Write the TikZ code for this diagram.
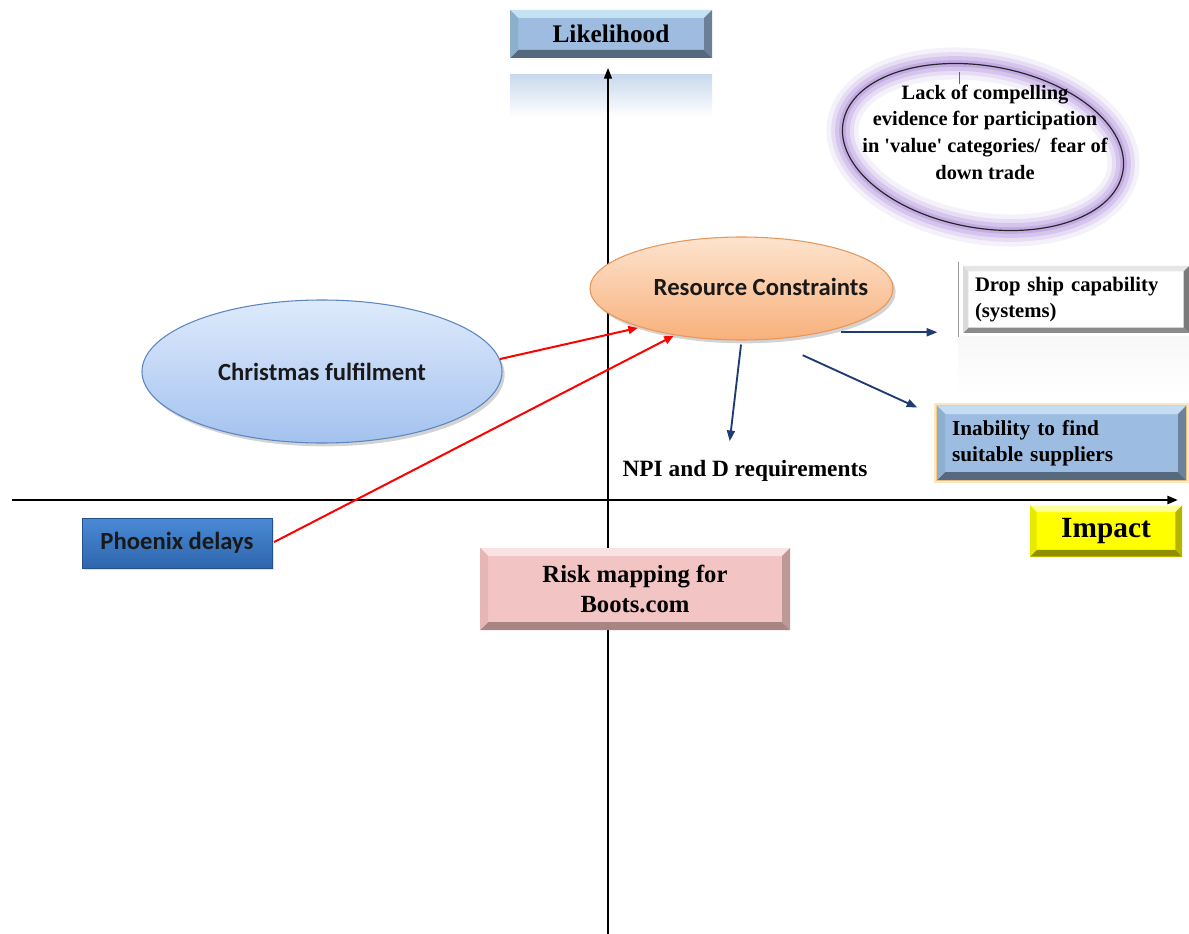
\documentclass[tikz,border=0pt]{standalone}
\usepackage{fontspec}
\setmainfont{Liberation Serif}
\newfontfamily\calibri{Carlito}
\usetikzlibrary{shapes.geometric,arrows.meta,shadows}

% bevel palettes: <name>base / top / left / bot / right
\definecolor{lkbase}{HTML}{9EBBE0}\definecolor{lktop}{HTML}{C4E2F2}\definecolor{lkleft}{HTML}{8AB0CC}\definecolor{lkbot}{HTML}{55687D}\definecolor{lkright}{HTML}{6B7F96}
\definecolor{inbase}{HTML}{9DBCE1}\definecolor{intop}{HTML}{C4DDF2}\definecolor{inleft}{HTML}{8DB0D0}\definecolor{inbot}{HTML}{56697E}\definecolor{inright}{HTML}{6D829A}
\definecolor{ipbase}{HTML}{FFFF00}\definecolor{iptop}{HTML}{FFFF99}\definecolor{ipleft}{HTML}{E8E800}\definecolor{ipbot}{HTML}{8F8F00}\definecolor{ipright}{HTML}{B5B500}
\definecolor{rkbase}{HTML}{F2C4C4}\definecolor{rktop}{HTML}{FAE2E2}\definecolor{rkleft}{HTML}{E6B6B6}\definecolor{rkbot}{HTML}{A88484}\definecolor{rkright}{HTML}{BE9898}
\definecolor{dsbase}{HTML}{FFFFFF}\definecolor{dstop}{HTML}{E6E6E6}\definecolor{dsleft}{HTML}{DADADA}\definecolor{dsbot}{HTML}{8A8A8A}\definecolor{dsright}{HTML}{7A7A7A}

\definecolor{resTop}{HTML}{FDE4CE}\definecolor{resBot}{HTML}{F8B07B}\definecolor{resLine}{HTML}{E8975A}
\definecolor{chrTop}{HTML}{DEEAFC}\definecolor{chrBot}{HTML}{A4C2EF}\definecolor{chrLine}{HTML}{5B86C0}
\definecolor{phoTop}{HTML}{4A8AD6}\definecolor{phoBot}{HTML}{2E66AD}
\definecolor{navyline}{HTML}{1F3B73}
\definecolor{glowpurple}{HTML}{9A72D0}
\definecolor{glowamber}{HTML}{F7B955}

\tikzset{
  bevel width/.store in=\bevw,
  bevel width=6pt,
  bevel/.style={fill=#1base, draw=none, path picture={
      \fill[#1top] (path picture bounding box.north west) -- (path picture bounding box.north east)
        -- ([shift={(-\bevw,-\bevw)}]path picture bounding box.north east)
        -- ([shift={(\bevw,-\bevw)}]path picture bounding box.north west) -- cycle;
      \fill[#1bot] (path picture bounding box.south west) -- (path picture bounding box.south east)
        -- ([shift={(-\bevw,\bevw)}]path picture bounding box.south east)
        -- ([shift={(\bevw,\bevw)}]path picture bounding box.south west) -- cycle;
      \fill[#1left] (path picture bounding box.north west) -- (path picture bounding box.south west)
        -- ([shift={(\bevw,\bevw)}]path picture bounding box.south west)
        -- ([shift={(\bevw,-\bevw)}]path picture bounding box.north west) -- cycle;
      \fill[#1right] (path picture bounding box.north east) -- (path picture bounding box.south east)
        -- ([shift={(-\bevw,\bevw)}]path picture bounding box.south east)
        -- ([shift={(-\bevw,-\bevw)}]path picture bounding box.north east) -- cycle;
  }},
  glow/.style={
    preaction={draw=#1, line width=24pt, opacity=0.10},
    preaction={draw=#1, line width=17pt, opacity=0.16},
    preaction={draw=#1, line width=11pt, opacity=0.22},
    preaction={draw=#1, line width=5pt, opacity=0.30}},
  thinglow/.style={
    preaction={draw=#1, line width=5pt, opacity=0.35},
    preaction={draw=#1, line width=2pt, opacity=0.6}},
  softshadow/.style={drop shadow={opacity=0.35, shadow xshift=2pt, shadow yshift=-2.5pt}},
  axis/.style={draw=black, line width=1.2pt, -{Triangle[length=8pt,width=6pt]}},
  redarrow/.style={draw=red, line width=1.5pt, -{Triangle[length=7pt,width=6pt]}},
  navyarrow/.style={draw=navyline, line width=1.4pt, -{Triangle[length=8pt,width=6pt]}},
  calfont/.style={font=\calibri\bfseries\fontsize{18.5}{22}\selectfont, text=black!90},
}

\begin{document}
\begin{tikzpicture}[x=0.75pt, y=-0.75pt]
\useasboundingbox (0,0) rectangle (1189,934);

% faded reflections under the top boxes
\node[rectangle, minimum width={202*0.75pt}, minimum height={42*0.75pt}, inner sep=0pt,
      top color=lkbase!55, bottom color=white] (likeref) at (611,96) {};
\node[rectangle, minimum width={231*0.75pt}, minimum height={58*0.75pt}, inner sep=0pt,
      top color=black!3, bottom color=white] (dropref) at (1074,366) {};

% axes
\coordinate (ybot) at (608,934);
\coordinate (ytop) at (608,68);
\coordinate (xleft) at (12,500);
\coordinate (xright) at (1178,500);
\draw[axis] (ybot) -- (ytop);
\draw[axis, line width=1.8pt] (xleft) -- (xright);

% axis labels
\node[bevel=lk, minimum width={202*0.75pt}, minimum height={48*0.75pt},
      font=\bfseries\fontsize{19}{22}\selectfont] (like) at (611,34) {\raisebox{-2pt}{Likelihood}};
\node[bevel=ip, bevel width=5pt, minimum width={152*0.75pt}, minimum height={51*0.75pt},
      font=\bfseries\fontsize{22}{24}\selectfont] (impact) at (1106,531) {\raisebox{-3pt}{Impact}};

% title box
\node[bevel=rk, minimum width={310*0.75pt}, minimum height={82*0.75pt}, align=center,
      font=\bfseries\fontsize{18.5}{22.5}\selectfont] (risk) at (635,589) {Risk mapping for\\Boots.com};

% risks
\node[ellipse, draw=black!85, line width=0.9pt, rotate=-10, glow=glowpurple,
      minimum width={284*0.75pt}, minimum height={162*0.75pt}] (lack) at (983,147) {};
\node[align=center, font=\bfseries\fontsize{15.3}{20}\selectfont] (lacktxt) at (985,132)
  {Lack of compelling\\evidence for participation\\in \textquotesingle value\textquotesingle\ categories/\ \ fear of\\down trade};
\draw[black!60, line width=0.5pt] (lacktxt.north) ++(-19pt,-3pt) coordinate (tickbot) -- ++(0,9pt) coordinate (ticktop);

\node[ellipse, minimum width={360*0.75pt}, minimum height={143*0.75pt}, inner sep=0pt,
      top color=chrTop, bottom color=chrBot, draw=chrLine, line width=0.8pt, softshadow,
      calfont] (chr) at (322,371.5) {Christmas fulfilment};

\node[ellipse, minimum width={303*0.75pt}, minimum height={103*0.75pt}, inner sep=0pt,
      top color=resTop, bottom color=resBot, draw=resLine, line width=0.8pt, softshadow] (res) at (741.5,288.5) {};
\node[calfont] (restxt) at (761,287) {Resource Constraints};

\node[rectangle, minimum width={190*0.75pt}, minimum height={50*0.75pt},
      top color=phoTop, bottom color=phoBot, draw=phoBot!80!black, line width=0.4pt,
      drop shadow={opacity=0.25, shadow xshift=1.5pt, shadow yshift=-1.5pt},
      calfont] (pho) at (177,543) {Phoenix delays};

\node[bevel=ds, bevel width=4pt, minimum height={67*0.75pt}, inner xsep={12*0.75pt},
      text width={(226-24)*0.75pt}, align=left,
      font=\bfseries\fontsize{15.5}{20}\selectfont] (drop) at (1076,299.5) {Drop ship capability\\(systems)};
\draw[black!40, line width=0.6pt] ([shift={(-3.5pt,2.5pt)}]drop.north west) coordinate (droptop)
  -- ([shift={(-3.5pt,-2.5pt)}]drop.south west) coordinate (dropbot);

\node[bevel=in, bevel width=6pt, minimum height={74*0.75pt}, inner xsep={15*0.75pt},
      text width={(249-30)*0.75pt}, align=left, thinglow=glowamber,
      font=\bfseries\fontsize{16}{19.5}\selectfont] (inab) at (1061.5,443) {Inability to find\\suitable suppliers};

\node[font=\bfseries\fontsize{17.5}{20}\selectfont] (npi) at (745,471) {NPI and D requirements};

% connectors
\draw[redarrow, shorten >=2pt] (chr.4) -- (res.201);
\draw[redarrow, shorten <=1.5pt, shorten >=1pt] (pho.east) -- (res.215);
\draw[navyarrow, shorten <=13pt, shorten >=19pt] (res.-28) -- (res.-28 -| drop.west);
\draw[navyarrow, shorten <=28pt, shorten >=16pt] (res.-62) -- ([yshift=-8pt]inab.north west);
\draw[navyarrow, shorten <=3pt, shorten >=11pt] (res.south) -- ([xshift=-12.75pt]npi.north);
\end{tikzpicture}
\end{document}
